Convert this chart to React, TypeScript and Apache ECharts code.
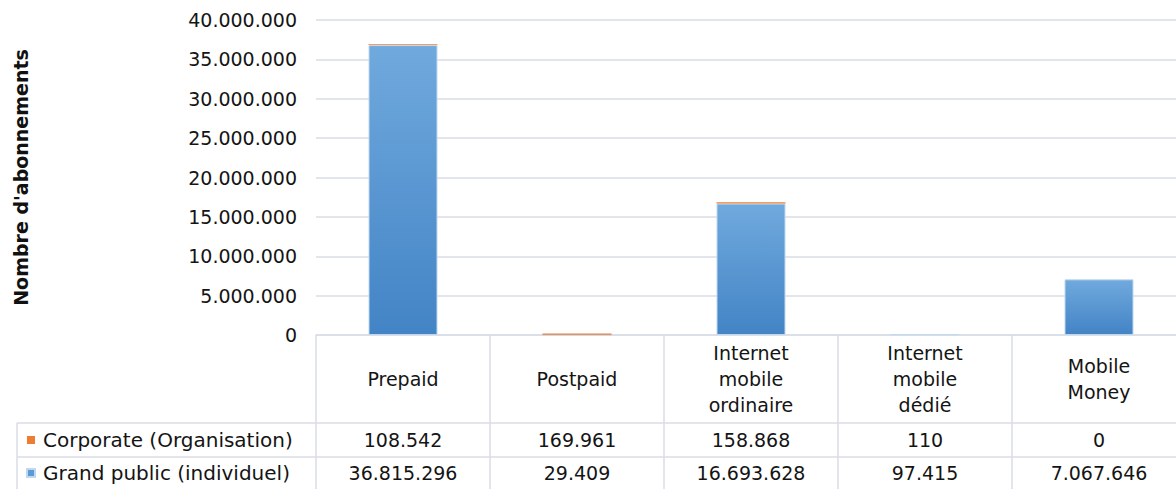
import React, { useEffect, useRef } from "react";
import * as echarts from "echarts";

const categories = ["Prepaid", "Postpaid", "Internet\nmobile\nordinaire", "Internet\nmobile\ndédié", "Mobile\nMoney"];
const corporate = [108542, 169961, 158868, 110, 0];
const grandPublic = [36815296, 29409, 16693628, 97415, 7067646];
const seriesNames = ["Corporate (Organisation)", "Grand public (individuel)"];
const yTicks = { min: 0, max: 40000000, interval: 5000000 };
const yTitle = "Nombre d'abonnements";

const FONT = "DejaVu Sans";
const GRID_LEFT = 316;
const GRID_TOP = 20;
const CAT_W = 174;
const PLOT_BOTTOM = 335;
const ROW1 = 423;
const ROW2 = 457;
const TOTAL_W = 1200;
const H = 489;
const LINE = "#d9dde6";
const ORANGE = "#ed7d31";
const BLUE = "#5b9bd5";

function fmt(n: number): string {
  return String(Math.round(n)).replace(/\B(?=(\d{3})+(?!\d))/g, ".");
}

export default function App() {
  const ref = useRef<HTMLDivElement>(null);
  useEffect(() => {
    if (!ref.current) return;
    const chart = echarts.init(ref.current, null, { renderer: "svg" });
    const plotRight = GRID_LEFT + CAT_W * categories.length;
    const lines: any[] = [];
    for (let i = 0; i <= categories.length; i++) {
      const x = GRID_LEFT + i * CAT_W;
      lines.push({ type: "line", shape: { x1: x, y1: PLOT_BOTTOM, x2: x, y2: H }, style: { stroke: LINE, lineWidth: 1.5 }, silent: true });
    }
    [ROW1, ROW2].forEach((y) => {
      lines.push({ type: "line", shape: { x1: 17, y1: y, x2: plotRight, y2: y }, style: { stroke: LINE, lineWidth: 1.5 }, silent: true });
    });
    lines.push({ type: "line", shape: { x1: 17, y1: ROW1, x2: 17, y2: H }, style: { stroke: LINE, lineWidth: 1.5 }, silent: true });

    const labelBase = { fontFamily: FONT, fontSize: 19, color: "#141414" };
    const tableAxis = (values: number[], margin: number) => ({
      type: "category",
      data: categories,
      position: "bottom",
      axisLine: { show: false },
      axisTick: { show: false },
      splitLine: { show: false },
      axisLabel: {
        ...labelBase,
        interval: 0,
        margin,
        verticalAlign: "middle",
        formatter: (_v: string, idx: number) => fmt(values[idx]),
      },
    });

    chart.setOption({
      animation: false,
      textStyle: { fontFamily: FONT },
      grid: { left: GRID_LEFT, top: GRID_TOP, width: CAT_W * categories.length, height: PLOT_BOTTOM - GRID_TOP },
      legend: {
        data: [
          { name: seriesNames[0], itemStyle: { color: ORANGE } },
          { name: seriesNames[1], itemStyle: { color: BLUE } },
        ],
        orient: "vertical",
        left: 26,
        top: 429,
        padding: 0,
        itemGap: 11,
        itemWidth: 8,
        itemHeight: 8,
        icon: "rect",
        textStyle: { ...labelBase, fontSize: 20, lineHeight: 22, padding: [0, 0, 0, 3] },
      },
      xAxis: [
        {
          type: "category",
          data: categories,
          axisLine: { show: true, lineStyle: { color: LINE, width: 1.5 } },
          axisTick: { show: false },
          axisLabel: { ...labelBase, interval: 0, margin: 44, verticalAlign: "middle", lineHeight: 26, align: "center" },
        },
        tableAxis(corporate, 105),
        tableAxis(grandPublic, 138),
      ],
      yAxis: {
        type: "value",
        min: yTicks.min,
        max: yTicks.max,
        interval: yTicks.interval,
        name: yTitle,
        nameLocation: "middle",
        nameGap: 286,
        nameRotate: 90,
        nameTextStyle: { fontFamily: FONT, fontSize: 19, fontWeight: "bold", color: "#111" },
        axisLine: { show: false },
        axisTick: { show: false },
        splitLine: { lineStyle: { color: LINE, width: 1.5 } },
        axisLabel: { ...labelBase, margin: 19, formatter: (v: number) => fmt(v) },
      },
      series: [
        {
          name: seriesNames[1],
          type: "bar",
          stack: "total",
          barWidth: 69,
          data: grandPublic,
          itemStyle: {
            color: new echarts.graphic.LinearGradient(0, 0, 0, 1, [
              { offset: 0, color: "#70a9dd" },
              { offset: 1, color: "#4384c6" },
            ]),
            borderColor: "#c0d8ef",
            borderWidth: 1,
          },
        },
        {
          name: seriesNames[0],
          type: "bar",
          stack: "total",
          barWidth: 69,
          data: corporate,
          itemStyle: { color: ORANGE },
        },
      ],
      graphic: lines,
    });
    return () => chart.dispose();
  }, []);
  return (
    <div style={{ position: "fixed", left: 0, top: 0, width: 1176, height: H, overflow: "hidden", background: "#fff" }}>
      <div ref={ref} style={{ width: TOTAL_W, height: H }} />
    </div>
  );
}
